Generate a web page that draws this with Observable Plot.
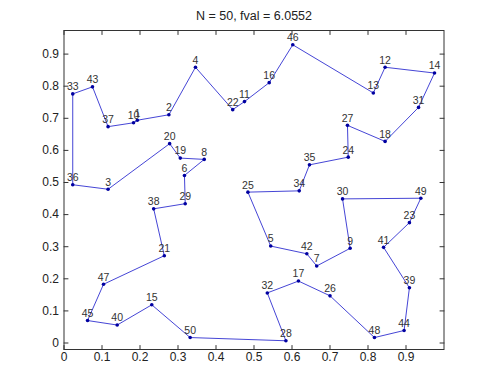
<!DOCTYPE html>
<html><head><meta charset="utf-8">
<script src="https://cdn.jsdelivr.net/npm/d3@7"></script>
<script src="https://cdn.jsdelivr.net/npm/@observablehq/plot@0.6"></script>
<style>body{margin:0;background:#fff;}</style>
</head><body><div id="chart"></div>
<script>
// City coordinates, city k is at index k-1
const cityX = [0.193,0.276,0.116,0.346,0.544,0.317,0.665,0.369,0.753,0.183,
               0.475,0.845,0.814,0.975,0.231,0.540,0.617,0.845,0.306,0.278,
               0.264,0.444,0.909,0.748,0.484,0.700,0.746,0.584,0.319,0.733,
               0.933,0.535,0.023,0.619,0.646,0.023,0.116,0.236,0.909,0.140,
               0.841,0.639,0.075,0.895,0.062,0.602,0.104,0.817,0.939,0.332];
const cityY = [0.694,0.711,0.479,0.859,0.302,0.522,0.240,0.572,0.295,0.686,
               0.752,0.859,0.779,0.841,0.119,0.811,0.193,0.628,0.576,0.621,
               0.272,0.727,0.375,0.579,0.470,0.147,0.678,0.007,0.434,0.449,
               0.734,0.156,0.776,0.474,0.555,0.493,0.674,0.418,0.172,0.056,
               0.298,0.278,0.798,0.039,0.070,0.929,0.183,0.017,0.451,0.017];
// Tour order
const tour = [33,43,37,10,1,2,4,22,11,16,46,13,12,14,31,18,27,24,35,34,
              25,5,42,7,9,30,49,23,41,39,44,48,26,17,32,28,50,15,40,45,
              47,21,38,29,6,8,19,20,3,36];
const xTicks = [0,0.1,0.2,0.3,0.4,0.5,0.6,0.7,0.8,0.9];
const yTicks = [0,0.1,0.2,0.3,0.4,0.5,0.6,0.7,0.8,0.9];
const titleText = "N = 50, fval = 6.0552";

const cities = cityX.map((x, i) => ({id: i + 1, x, y: cityY[i]}));
const path = tour.concat([tour[0]]).map(c => cities[c - 1]);

const tickShape = {draw(ctx, l) { ctx.moveTo(0, 0); ctx.lineTo(0, -l); }};
const tk = {length: 4, anchor: "start", shape: tickShape, stroke: "#333", strokeWidth: 1};
const font = "Liberation Sans, Arial, sans-serif";

const chart = Plot.plot({
  width: 490,
  height: 391,
  marginLeft: 63.5,
  marginRight: 46.5,
  marginTop: 30,
  marginBottom: 42,
  style: {background: "#fff", fontFamily: font},
  x: {domain: [0, 1], axis: null},
  y: {domain: [-0.0202, 0.9735], axis: null},
  marks: [
    Plot.frame({stroke: "#333", strokeWidth: 1}),
    Plot.vector(xTicks, {x: d => d, frameAnchor: "bottom", rotate: 0, ...tk}),
    Plot.vector(xTicks, {x: d => d, frameAnchor: "top", rotate: 180, ...tk}),
    Plot.vector(yTicks, {y: d => d, frameAnchor: "left", rotate: 90, ...tk}),
    Plot.vector(yTicks, {y: d => d, frameAnchor: "right", rotate: -90, ...tk}),
    Plot.axisX({ticks: xTicks, anchor: "bottom", tickSize: 0, tickPadding: 3, tickFormat: d => String(d), fontSize: 12, fill: "#222", label: null}),
    Plot.axisY({ticks: yTicks, anchor: "left", tickSize: 0, tickPadding: 5, tickFormat: d => String(d), fontSize: 12, fill: "#222", label: null}),
    Plot.line(path, {x: "x", y: "y", stroke: "#3030d0", strokeWidth: 0.9}),
    Plot.dot(cities, {x: "x", y: "y", r: 1.8, fill: "#0000a0", stroke: null}),
    Plot.text(cities, {x: "x", y: "y", text: d => String(d.id), dy: -7, fontSize: 10.5, fill: "#333", textAnchor: "middle", lineAnchor: "middle"}),
    Plot.text([titleText], {frameAnchor: "top", dy: -15, text: d => d, fontSize: 12.5, fill: "#222", lineAnchor: "middle"})
  ]
});
document.getElementById("chart").appendChild(chart);
</script></body></html>
